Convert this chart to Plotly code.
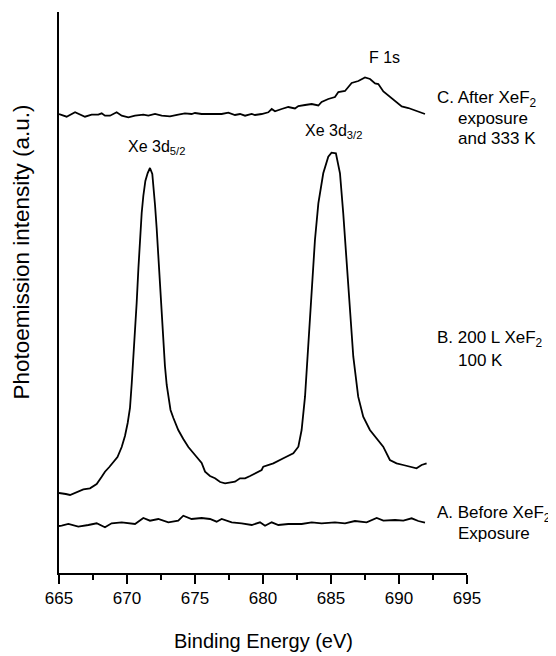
import plotly.graph_objects as go

# Binding energy (eV) and photoemission intensity (a.u.)
energy_a = [665.00, 665.20, 665.69, 666.42, 667.16, 667.77, 668.38, 668.87, 669.61, 670.59,
            671.20, 671.69, 672.30, 673.04, 673.77, 674.14, 674.75, 675.49, 676.10, 676.59,
            676.96, 677.70, 678.43, 679.17, 679.78, 680.15, 680.64, 681.13, 681.86, 682.84,
            683.58, 684.31, 685.29, 686.03, 686.76, 687.62, 688.36, 688.85, 689.71, 690.32,
            690.93, 691.42, 691.91]
intensity_a = [47.0, 47.3, 49.0, 46.3, 48.0, 49.7, 45.7, 49.7, 50.7, 49.0,
               55.0, 52.3, 54.0, 50.7, 52.3, 57.3, 54.0, 55.0, 54.0, 51.3,
               54.0, 50.7, 49.7, 48.0, 50.7, 47.3, 50.7, 48.0, 49.0, 49.0,
               50.7, 49.7, 50.7, 49.7, 52.0, 50.7, 55.0, 52.3, 53.0, 52.3,
               54.7, 52.0, 50.3]

energy_b = [665.00, 665.20, 665.50, 665.81, 666.18, 666.50, 666.79, 667.28, 667.77, 668.14,
            668.38, 668.70, 669.00, 669.30, 669.61, 669.85, 670.05, 670.22, 670.35, 670.47,
            670.60, 670.71, 670.84, 670.96, 671.08, 671.20, 671.35, 671.52, 671.69, 671.86,
            671.98, 672.06, 672.18, 672.30, 672.42, 672.55, 672.67, 672.79, 672.92, 673.04,
            673.20, 673.41, 673.60, 673.77, 674.14, 674.51, 675.00, 675.49, 675.74, 676.10,
            676.47, 676.85, 677.21, 677.60, 677.94, 678.31, 678.68, 679.05, 679.41, 679.90,
            680.02, 680.76, 681.50, 682.23, 682.60, 682.84, 683.09, 683.33, 683.58, 683.82,
            684.07, 684.43, 684.80, 685.04, 685.36, 685.66, 685.90, 686.15, 686.39, 686.64,
            687.00, 687.37, 687.86, 688.35, 688.84, 689.33, 689.82, 690.31, 690.80, 691.29,
            691.66, 692.03]
intensity_b = [80.0, 79.7, 79.0, 78.0, 80.3, 82.0, 83.7, 84.7, 89.0, 96.3,
               101.3, 106.0, 111.0, 116.0, 126.0, 137.0, 150.0, 165.0, 190.0, 215.0,
               245.0, 270.0, 305.0, 335.0, 360.0, 377.0, 392.0, 400.0, 405.0, 399.0,
               383.0, 368.0, 345.0, 318.0, 288.0, 258.0, 230.0, 207.0, 188.0, 175.0,
               163.0, 155.0, 149.0, 143.0, 134.0, 126.0, 118.0, 110.0, 101.3, 97.0,
               94.7, 91.0, 89.7, 90.5, 91.3, 94.7, 94.7, 97.0, 99.7, 103.0,
               106.3, 109.7, 114.7, 119.7, 126.3, 143.0, 176.3, 226.3, 283.0, 333.0,
               369.7, 399.7, 416.3, 420.3, 419.7, 399.7, 359.7, 309.7, 259.7, 216.3,
               176.3, 156.3, 143.0, 134.7, 126.3, 113.0, 109.7, 108.0, 106.3, 104.7,
               108.0, 109.7]

energy_c = [665.00, 665.20, 665.56, 666.18, 666.91, 667.40, 667.89, 668.14, 668.38, 668.75,
            669.24, 669.61, 670.10, 670.59, 671.20, 671.57, 672.06, 672.55, 673.16, 673.77,
            674.26, 674.75, 675.00, 675.49, 676.23, 676.96, 677.45, 677.94, 678.31, 678.68,
            679.17, 679.41, 679.90, 680.39, 680.64, 680.88, 681.37, 681.86, 682.35, 682.60,
            683.09, 683.58, 684.07, 684.31, 684.80, 685.29, 685.54, 686.03, 686.52, 687.01,
            687.50, 687.87, 688.24, 688.48, 688.85, 689.22, 689.71, 690.20, 690.69, 691.18,
            691.54, 691.91]
intensity_c = [459.0, 458.3, 456.3, 460.7, 456.3, 458.3, 458.3, 459.7, 457.3, 457.3,
               460.7, 457.3, 455.7, 457.3, 458.3, 457.3, 459.0, 457.3, 456.7, 458.3,
               459.7, 459.0, 460.0, 459.0, 459.0, 459.0, 460.3, 458.0, 459.0, 457.3,
               459.0, 458.0, 459.0, 460.7, 464.0, 461.7, 464.0, 466.0, 464.5, 467.0,
               468.0, 469.0, 467.5, 471.0, 474.0, 476.0, 481.0, 482.0, 490.0, 492.0,
               495.5, 494.0, 489.5, 489.0, 481.5, 477.5, 472.0, 466.5, 465.0, 462.5,
               460.5, 459.0]

x_ticks = [665, 670, 675, 680, 685, 690, 695]

FONT = "Liberation Sans, Arial, sans-serif"

fig = go.Figure()
for xs, ys in [(energy_a, intensity_a), (energy_b, intensity_b), (energy_c, intensity_c)]:
    fig.add_trace(go.Scatter(x=xs, y=ys, mode="lines",
                             line=dict(color="black", width=1.8),
                             showlegend=False, hoverinfo="skip"))

ann = []
def label(x, y, text, xanchor="left", size=17):
    ann.append(dict(x=x, y=y, xref="x", yref="y", text=text, showarrow=False,
                    xanchor=xanchor, yanchor="middle",
                    font=dict(family=FONT, size=size, color="black")))

label(669.9, 426, "Xe 3d<sub>5/2</sub>", size=16)
label(682.95, 442, "Xe 3d<sub>3/2</sub>", size=16)
label(688.9, 516, "F 1s", xanchor="center", size=16)

label(692.65, 474, "C. After XeF<sub>2</sub>")
label(694.2, 455, "exposure")
label(694.2, 435, "and 333 K")
label(692.65, 234, "B. 200 L XeF<sub>2</sub>")
label(694.2, 213, "100 K")
label(692.65, 59, "A. Before XeF<sub>2</sub>")
label(694.2, 40, "Exposure")

ann.append(dict(x=-0.0907, y=0.573, xref="paper", yref="paper", textangle=-90,
                text="Photoemission intensity (a.u.)", showarrow=False,
                xanchor="center", yanchor="middle",
                font=dict(family=FONT, size=22.5, color="black")))
ann.append(dict(x=0.5, y=-0.122, xref="paper", yref="paper",
                text="Binding Energy (eV)", showarrow=False,
                xanchor="center", yanchor="middle",
                font=dict(family=FONT, size=20, color="black")))

# page body adds an 8 px offset, so the figure is 8 px smaller with matching margins
fig.update_layout(
    width=548, height=648,
    margin=dict(l=51, r=89, t=4, b=83),
    paper_bgcolor="white", plot_bgcolor="white",
    annotations=ann,
    xaxis=dict(range=[665, 695], tickvals=x_ticks, ticktext=[str(t) for t in x_ticks],
               showline=True, linecolor="black", linewidth=1.6,
               ticks="outside", ticklen=9, tickwidth=1.6, tickcolor="black",
               minor=dict(ticks="outside", ticklen=5, tickwidth=1.6, tickcolor="black", dtick=2.5),
               showgrid=False, zeroline=False,
               tickfont=dict(family=FONT, size=17, color="black")),
    yaxis=dict(range=[0, 561], showline=True, linecolor="black", linewidth=1.6,
               ticks="", showticklabels=False, showgrid=False, zeroline=False),
)

fig.write_html("out.html")
